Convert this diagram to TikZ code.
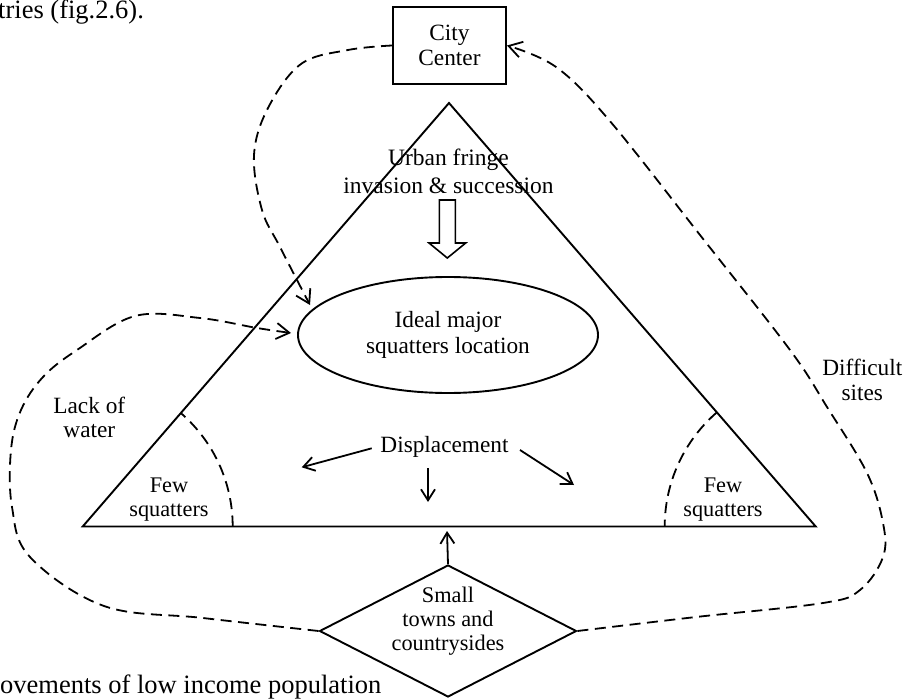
\documentclass[tikz,border=0pt]{standalone}
\usepackage{fontspec}
\setmainfont{Liberation Serif}
\usetikzlibrary{arrows.meta,shapes.geometric}
\begin{document}
\begin{tikzpicture}[x=1pt,y=-1pt,
  every node/.style={font=\fontsize{23.3}{25.5}\selectfont, align=center, inner sep=0pt},
  small/.style={font=\fontsize{22.3}{24}\selectfont},
  body/.style={font=\fontsize{26.5}{30}\selectfont, anchor=base west},
  outline/.style={draw, line width=1.9pt},
  tri/.style={line width=1.9pt, line join=miter},
  flow/.style={line width=1.8pt, dash pattern=on 11pt off 6.5pt,
    -{Straight Barb[length=13pt,width=16pt]}},
  push/.style={line width=1.8pt, -{Straight Barb[length=11pt,width=14pt]}},
  zone/.style={line width=1.8pt, dash pattern=on 11pt off 6.5pt}
]
\useasboundingbox (0,0) rectangle (909,700);

% running text of the page around the figure
\node[body] (above) at (-2,19) {tries (fig.2.6).};
\node[body] (below) at (0,693) {ovements of low income population};

% triangle of the urban area
\coordinate (apex) at (449,103);
\coordinate (lv) at (82.7,526.5);
\coordinate (rv) at (815.7,526.5);
\draw[tri] (apex) -- (lv) -- (rv) -- cycle;

% corner zones with few squatters
\draw[zone] plot[domain=0:49.1, samples=40] ({82.7+150*cos(\x)}, {526.5-150*sin(\x)});
\draw[zone] plot[domain=130.9:180, samples=40] ({815.7+151*cos(\x)}, {526.5-151*sin(\x)});

% nodes
\node[outline, line width=2pt, minimum width=113pt, minimum height=77pt] (cc) at (449.5,45.5) {City\\Center};
\node[outline, ellipse, minimum width=300pt, minimum height=116pt] (ell) at (448,335) {Ideal major\\squatters location};
\node[outline, diamond, shape aspect=1.95, minimum width=257pt, minimum height=132pt] (dia) at (448,631) {};
\node[small] (diatext) at (448,621) {Small\\towns and\\countrysides};

\node[font=\fontsize{23.5}{28}\selectfont] (fringe) at (448.5,171.5) {Urban fringe\\invasion \& succession};
\node (disp) at (444.5,447) {Displacement};
\node[font=\fontsize{23.3}{24}\selectfont] (lack) at (89.3,417.5) {Lack of\\water};
\node[font=\fontsize{23.3}{25}\selectfont] (diff) at (862.3,380) {Difficult\\sites};
\node[small] (fewl) at (169,500) {Few\\squatters};
\node[small] (fewr) at (723,500) {Few\\squatters};

% hollow block arrow below the fringe label
\draw[line width=1.6pt, line join=miter] (439.3,200) -- (455.3,200) -- (455.3,243) -- (465.7,243)
  -- (447.3,258) -- (429,243) -- (439.3,243) -- cycle;

% displacement arrows
\coordinate (dls) at (371.7,448.3);
\coordinate (dle) at (301.7,467.3);
\coordinate (drs) at (520,450);
\coordinate (dre) at (574,485);
\coordinate (dds) at (428,468);
\coordinate (dde) at (428,502);
\draw[push] (dls) -- (dle);
\draw[push] (drs) -- (dre);
\draw[push] (dds) -- (dde);

% movement up from the small towns
\coordinate (base) at (447,531);
\draw[push] (dia.north) -- (base);

% dashed migration flows
\coordinate (ellnw) at (310,305);
\coordinate (ellw) at (291,333);
\draw[flow] plot[smooth, tension=0.6] coordinates {(cc.west) (348,50) (301,64) (268,108) (254,155) (262,210) (280,247) (ellnw)};
\draw[flow] plot[smooth, tension=0.6] coordinates {(dia.west) (203,618) (104,606) (30,557) (12,507) (11,450) (21,410) (43,377) (77,350) (135,316) (200,318) (257,328) (ellw)};
\draw[flow] plot[smooth, tension=0.6] coordinates {(dia.east) (696,617) (823,603) (860,590) (883,557) (883,523) (867,473) (827,407) (790,350) (700,235) (609,120) (556,67) (cc.east)};
\end{tikzpicture}
\end{document}
